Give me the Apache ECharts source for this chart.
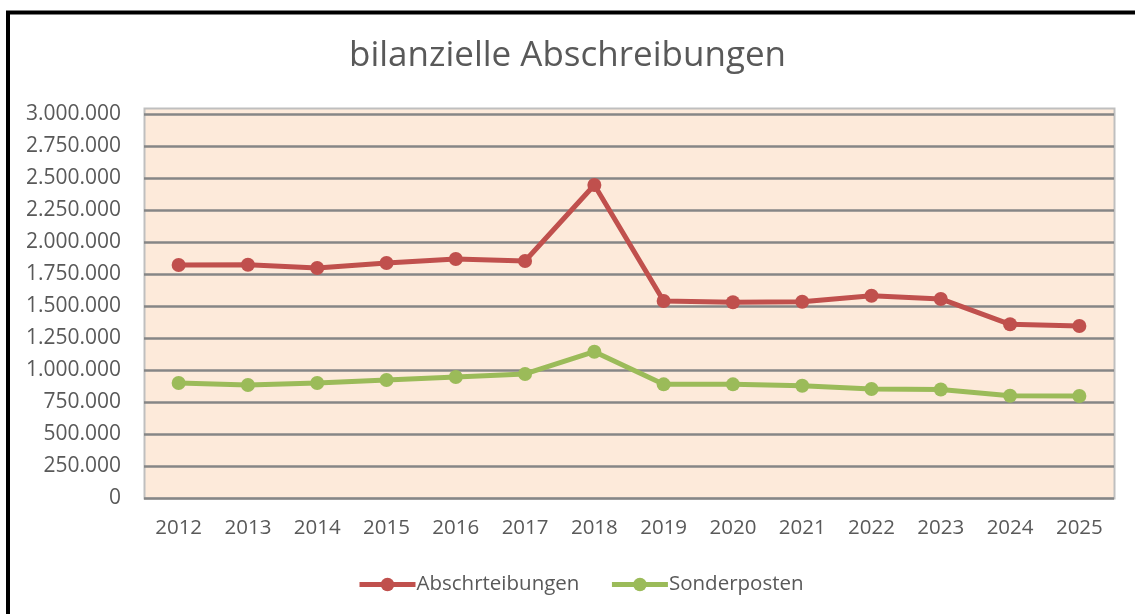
<!DOCTYPE html>
<html lang="de">
<head>
    <meta charset="UTF-8">
    <title>bilanzielle Abschreibungen</title>
    <script src="https://cdn.jsdelivr.net/npm/echarts@6/dist/echarts.min.js"></script>
    <style>
        html, body { margin: 0; padding: 0; background: #fff; }
    </style>
</head>
<body>
<div id="chart" style="width:1135px;height:614px;"></div>

<script>
    // Daten
    var jahre = ['2012', '2013', '2014', '2015', '2016', '2017', '2018',
                 '2019', '2020', '2021', '2022', '2023', '2024', '2025'];
    var abschreibungen = [1820000, 1822000, 1797000, 1836000, 1867000, 1852000, 2445000,
                          1539000, 1529000, 1533000, 1580000, 1555000, 1357000, 1344000];
    var sonderposten = [898000, 883000, 898000, 922000, 945000, 969000, 1143000,
                        888000, 888000, 877000, 852000, 848000, 799000, 797000];

    var schrift = '"Open Sans", "Liberation Sans", sans-serif';

    // 1.250.000 statt 1,250,000
    function punkte(v) {
        return String(v).replace(/\B(?=(\d{3})+(?!\d))/g, '.');
    }

    var myChart = echarts.init(document.getElementById('chart'));

    var option = {
        backgroundColor: '#ffffff',
        animation: false,
        title: {
            text: 'bilanzielle Abschreibungen',
            left: 'center',
            top: 34,
            textStyle: {
                color: '#595959',
                fontFamily: schrift,
                fontWeight: 'normal',
                fontSize: 35
            }
        },
        // schwarzer Rahmen + Plotflaeche
        graphic: [
            {
                type: 'rect',
                z: -10,
                shape: { x: 8, y: 12.5, width: 1200, height: 700 },
                style: { fill: 'none', stroke: '#000000', lineWidth: 4 }
            },
            {
                type: 'rect',
                z: -10,
                shape: { x: 144.5, y: 108.5, width: 970, height: 390 },
                style: { fill: '#FDEADA', stroke: '#BFBFBF', lineWidth: 2 }
            }
        ],
        legend: {
            left: 352,
            top: 569,
            itemWidth: 56,
            itemHeight: 17,
            itemGap: 30,
            lineStyle: { width: 5 },
            textStyle: {
                color: '#595959',
                fontFamily: schrift,
                fontSize: 20.5,
                padding: [0, 0, 0, -4]
            },
            data: ['Abschrteibungen', 'Sonderposten']
        },
        grid: {
            left: 144,
            right: 21,
            top: 114,
            bottom: 116,
            containLabel: false
        },
        xAxis: {
            type: 'category',
            data: jahre,
            boundaryGap: true,
            axisLine: { show: false },
            axisTick: { show: false },
            axisLabel: {
                color: '#595959',
                fontFamily: schrift,
                fontSize: 20.5,
                margin: 20
            }
        },
        yAxis: {
            type: 'value',
            min: 0,
            max: 3000000,
            interval: 250000,
            axisLine: { show: false },
            axisTick: { show: false },
            axisLabel: {
                color: '#595959',
                fontFamily: schrift,
                fontSize: 21,
                margin: 23,
                formatter: punkte
            },
            splitLine: {
                lineStyle: { color: '#868686', width: 2.5 }
            }
        },
        series: [
            {
                name: 'Abschrteibungen',
                type: 'line',
                data: abschreibungen,
                symbol: 'circle',
                symbolSize: 14,
                lineStyle: { color: '#C0504D', width: 5 },
                itemStyle: { color: '#C0504D' }
            },
            {
                name: 'Sonderposten',
                type: 'line',
                data: sonderposten,
                symbol: 'circle',
                symbolSize: 14,
                lineStyle: { color: '#9BBB59', width: 5 },
                itemStyle: { color: '#9BBB59' }
            }
        ]
    };

    myChart.setOption(option);
</script>
</body>
</html>
